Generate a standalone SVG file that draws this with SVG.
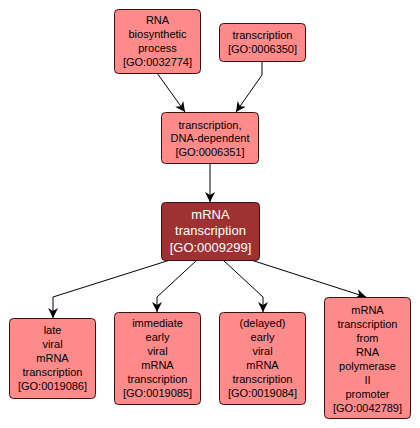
<svg xmlns="http://www.w3.org/2000/svg" width="420" height="428" viewBox="0 0 420 428">
<defs>
<style>
.n rect{fill:#ff8a8a;stroke:#3a1010;stroke-width:1}
.n text{font-family:"Liberation Sans",Arial,sans-serif;font-size:11px;fill:#000;text-anchor:middle}
.m rect{fill:#9e3232;stroke:#3a1010;stroke-width:1}
.m text{font-family:"Liberation Sans",Arial,sans-serif;font-size:13px;fill:#fff;text-anchor:middle}
.e path{fill:none;stroke:#000;stroke-width:1;marker-end:url(#a)}
</style>
<marker id="a" viewBox="0 0 10 10" refX="10" refY="5" markerWidth="10" markerHeight="10" markerUnits="userSpaceOnUse" orient="auto">
<path d="M0,0 L10,5 L0,10 L3,5 Z" fill="#000"/>
</marker>
</defs>
<rect width="420" height="428" fill="#fff"/>
<g id="edges" class="e">
<path d="M157,73 L185,112"/>
<path d="M262,61 L262,75 L236,112"/>
<path d="M210,163 L210,202"/>
<path d="M170,260 L53,297 L53,318"/>
<path d="M197,260 L157,297 L157,312"/>
<path d="M223,260 L263,297 L263,312"/>
<path d="M248,259 L366,297"/>
</g>
<g id="GO0032774" class="n">
<rect x="114.5" y="9.5" width="86" height="64" rx="4"/>
<text x="157.5" y="24">RNA</text>
<text x="157.5" y="38">biosynthetic</text>
<text x="157.5" y="52">process</text>
<text x="157.5" y="66">[GO:0032774]</text>
</g>
<g id="GO0006350" class="n">
<rect x="219.5" y="23.5" width="86" height="38" rx="4"/>
<text x="262.5" y="39">transcription</text>
<text x="262.5" y="53">[GO:0006350]</text>
</g>
<g id="GO0006351" class="n">
<rect x="161.5" y="112.5" width="97" height="51" rx="4"/>
<text x="210" y="129">transcription,</text>
<text x="210" y="142">DNA-dependent</text>
<text x="210" y="156">[GO:0006351]</text>
</g>
<g id="GO0009299" class="m">
<rect x="161.5" y="202.5" width="98" height="58" rx="4"/>
<text x="210.5" y="219">mRNA</text>
<text x="210.5" y="235">transcription</text>
<text x="210.5" y="252">[GO:0009299]</text>
</g>
<g id="GO0019086" class="n">
<rect x="9.5" y="318.5" width="86" height="80" rx="4"/>
<text x="52.5" y="334">late</text>
<text x="52.5" y="348">viral</text>
<text x="52.5" y="362">mRNA</text>
<text x="52.5" y="376">transcription</text>
<text x="52.5" y="390">[GO:0019086]</text>
</g>
<g id="GO0019085" class="n">
<rect x="114.5" y="312.5" width="86" height="92" rx="4"/>
<text x="157.5" y="327">immediate</text>
<text x="157.5" y="341">early</text>
<text x="157.5" y="355">viral</text>
<text x="157.5" y="369">mRNA</text>
<text x="157.5" y="383">transcription</text>
<text x="157.5" y="397">[GO:0019085]</text>
</g>
<g id="GO0019084" class="n">
<rect x="219.5" y="312.5" width="86" height="92" rx="4"/>
<text x="262.5" y="327">(delayed)</text>
<text x="262.5" y="341">early</text>
<text x="262.5" y="355">viral</text>
<text x="262.5" y="369">mRNA</text>
<text x="262.5" y="383">transcription</text>
<text x="262.5" y="397">[GO:0019084]</text>
</g>
<g id="GO0042789" class="n">
<rect x="324.5" y="297.5" width="86" height="121" rx="4"/>
<text x="367.5" y="314">mRNA</text>
<text x="367.5" y="328">transcription</text>
<text x="367.5" y="342">from</text>
<text x="367.5" y="356">RNA</text>
<text x="367.5" y="370">polymerase</text>
<text x="367.5" y="384">II</text>
<text x="367.5" y="398">promoter</text>
<text x="367.5" y="412">[GO:0042789]</text>
</g>
</svg>
